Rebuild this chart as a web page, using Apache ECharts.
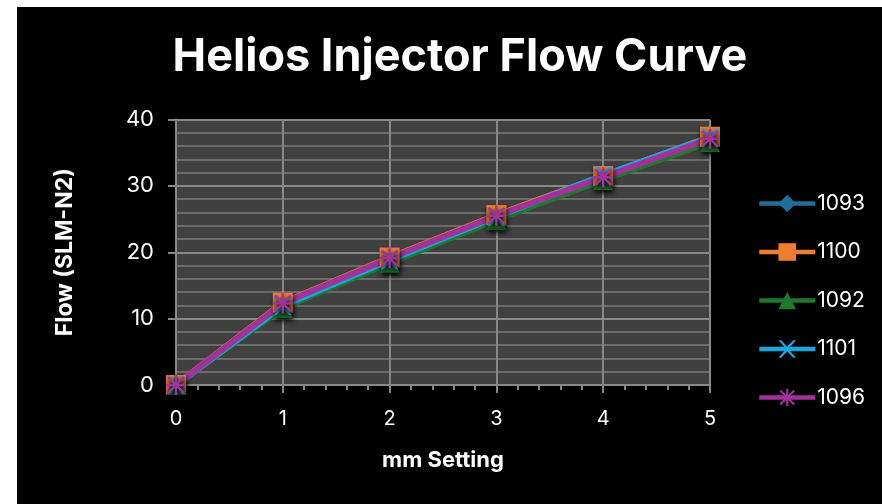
<!DOCTYPE html>
<html><head><meta charset="utf-8">
<script src="https://cdn.jsdelivr.net/npm/echarts@6/dist/echarts.min.js"></script>
<style>html,body{margin:0;padding:0;background:#fff;width:882px;height:504px;overflow:hidden}
#c{position:absolute;left:17px;top:7px;width:865px;height:497px;background:#000}</style>
</head><body><div id="c"></div>
<script>
const xValues = [0, 1, 2, 3, 4, 5];
const seriesNames = ['1093', '1100', '1092', '1101', '1096'];
const s1093 = [0, 12.2, 19.0, 25.4, 31.4, 37.2];
const s1100 = [0, 12.4, 19.2, 25.6, 31.5, 37.4];
const s1092 = [0, 11.6, 18.4, 24.9, 30.9, 36.6];
const s1101 = [0, 11.9, 18.8, 25.3, 31.6, 37.3];
const s1096 = [0, 12.3, 19.1, 25.5, 31.3, 37.1];
const yTicks = [0, 10, 20, 30, 40];

const allValues = [s1093, s1100, s1092, s1101, s1096];
const colors = ['#1f6f9c', '#f07c32', '#1d7a2c', '#19a5de', '#a0339a'];
const symbols = ['diamond', 'rect', 'triangle',
  'path://M0,0 L1.6,0 L5,3.6 L8.4,0 L10,0 L6,4.6 L6,5.4 L10,10 L8.4,10 L5,6.4 L1.6,10 L0,10 L4,5.4 L4,4.6 Z',
  'path://M4.4,0 L5.6,0 L5.6,3.6 L8.5,0.6 L9.4,1.5 L6.4,4.4 L10,4.4 L10,5.6 L6.4,5.6 L9.4,8.5 L8.5,9.4 L5.6,6.4 L5.6,10 L4.4,10 L4.4,6.4 L1.5,9.4 L0.6,8.5 L3.6,5.6 L0,5.6 L0,4.4 L3.6,4.4 L0.6,1.5 L1.5,0.6 L4.4,3.6 Z'];
const sizes = [18, 20, 20, 18, 20];
const F = 'Inter';

const chart = echarts.init(document.getElementById('c'));
const series = seriesNames.map((n, i) => ({
  name: n, type: 'line',
  data: xValues.map((x, j) => [x, allValues[i][j]]),
  symbol: symbols[i], symbolSize: sizes[i],
  lineStyle: {color: colors[i], width: 6},
  itemStyle: {color: colors[i], shadowColor: 'rgba(0,0,0,0.85)', shadowBlur: 5, shadowOffsetX: 1, shadowOffsetY: 3},
  emphasis: {disabled: true}
}));
chart.setOption({
  backgroundColor: '#000',
  animation: false,
  title: {text: 'Helios Injector Flow Curve', left: 438, top: 23, textAlign: 'center',
    textStyle: {color: '#fff', fontSize: 45, fontWeight: 'bold', fontFamily: F}},
  grid: {left: 159, top: 112.5, right: 172, bottom: 119, show: true, backgroundColor: '#404040', borderWidth: 0},
  legend: {orient: 'vertical', left: 735, top: 181, itemWidth: 56, itemHeight: 22, itemGap: 27.5,
    data: seriesNames,
    lineStyle: {width: 4.5},
    itemStyle: {shadowBlur: 0, shadowOffsetX: 0, shadowOffsetY: 0},
    textStyle: {color: '#fff', fontSize: 21, fontFamily: F, padding: [0, 0, 0, -3]}},
  xAxis: {type: 'value', min: 0, max: 5, interval: 1,
    name: 'mm Setting', nameLocation: 'middle', nameGap: 64,
    nameTextStyle: {color: '#fff', fontSize: 22, fontWeight: 'bold', fontFamily: F},
    axisLine: {lineStyle: {color: '#888', width: 2}},
    axisTick: {show: true, length: 8, lineStyle: {color: '#888', width: 2}},
    minorTick: {show: true, splitNumber: 5, length: 5, lineStyle: {color: '#888', width: 2}},
    axisLabel: {color: '#fff', fontSize: 20, fontFamily: F, margin: 24},
    splitLine: {show: true, lineStyle: {color: '#888', width: 2}}},
  yAxis: {type: 'value', min: 0, max: 40, interval: 10,
    name: 'Flow (SLM-N2)', nameLocation: 'middle', nameGap: 99, nameRotate: 90,
    nameTextStyle: {color: '#fff', fontSize: 23, fontWeight: 'bold', fontFamily: F},
    axisLine: {show: true, lineStyle: {color: '#888', width: 2}},
    axisTick: {show: true, length: 8, lineStyle: {color: '#888', width: 2}},
    axisLabel: {color: '#fff', fontSize: 22, fontFamily: F, margin: 22,
      formatter: v => yTicks.includes(v) ? String(v) : ''},
    splitLine: {show: true, lineStyle: {color: '#888', width: 2}},
    minorSplitLine: {show: true, lineStyle: {color: '#6a6a6a', width: 2}},
    minorTick: {show: false, splitNumber: 5}},
  series: series
});
</script></body></html>
